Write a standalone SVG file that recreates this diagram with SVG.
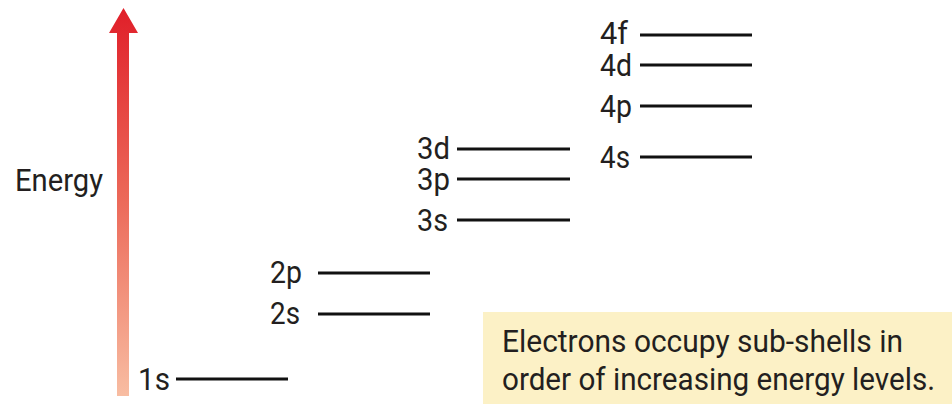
<svg xmlns="http://www.w3.org/2000/svg" width="952" height="410" viewBox="0 0 952 410">
<defs>
<linearGradient id="ag" x1="0" y1="0" x2="0" y2="1">
<stop offset="0" stop-color="#e01f29"/>
<stop offset="0.5" stop-color="#ec6a5a"/>
<stop offset="1" stop-color="#f8bda2"/>
</linearGradient>
<style>
text{font-family:Roboto,"Liberation Sans",sans-serif;font-size:31px;fill:#231f20}
.lv{stroke:#111;stroke-width:3;fill:none}
</style>
</defs>
<rect width="952" height="410" fill="#fff"/>
<g id="energy-axis">
<path d="M117,33 H109 L123.5,8 L138,33 H129 V396 H117 Z" fill="url(#ag)"/>
<text x="15" y="191" textLength="88" lengthAdjust="spacingAndGlyphs">Energy</text>
</g>
<g id="connectors">
<line class="lv" x1="176" y1="379" x2="288" y2="379"/>
<line class="lv" x1="318" y1="314" x2="430" y2="314"/>
<line class="lv" x1="318" y1="273" x2="430" y2="273"/>
<line class="lv" x1="457" y1="220" x2="570" y2="220"/>
<line class="lv" x1="457" y1="179" x2="570" y2="179"/>
<line class="lv" x1="457" y1="149" x2="570" y2="149"/>
<line class="lv" x1="640" y1="157" x2="752" y2="157"/>
<line class="lv" x1="640" y1="106" x2="752" y2="106"/>
<line class="lv" x1="640" y1="65" x2="752" y2="65"/>
<line class="lv" x1="640" y1="35" x2="752" y2="35"/>
</g>
<g id="n1s"><text x="138" y="390" textLength="32" lengthAdjust="spacingAndGlyphs">1s</text></g>
<g id="n2s"><text x="270" y="324" textLength="30" lengthAdjust="spacingAndGlyphs">2s</text></g>
<g id="n2p"><text x="270" y="283" textLength="32" lengthAdjust="spacingAndGlyphs">2p</text></g>
<g id="n3s"><text x="417" y="231" textLength="31" lengthAdjust="spacingAndGlyphs">3s</text></g>
<g id="n3p"><text x="417" y="190" textLength="33" lengthAdjust="spacingAndGlyphs">3p</text></g>
<g id="n3d"><text x="417" y="159" textLength="33" lengthAdjust="spacingAndGlyphs">3d</text></g>
<g id="n4s"><text x="600" y="168" textLength="30" lengthAdjust="spacingAndGlyphs">4s</text></g>
<g id="n4p"><text x="600" y="117" textLength="32" lengthAdjust="spacingAndGlyphs">4p</text></g>
<g id="n4d"><text x="600" y="76" textLength="32" lengthAdjust="spacingAndGlyphs">4d</text></g>
<g id="n4f"><text x="600" y="44" textLength="28" lengthAdjust="spacingAndGlyphs">4f</text></g>
<g id="note">
<rect x="483" y="312" width="469" height="92" fill="#fcf1c6"/>
<text x="502" y="352" textLength="401" lengthAdjust="spacingAndGlyphs">Electrons occupy sub-shells in</text>
<text x="502" y="390" textLength="433" lengthAdjust="spacingAndGlyphs">order of increasing energy levels.</text>
</g>
</svg>
